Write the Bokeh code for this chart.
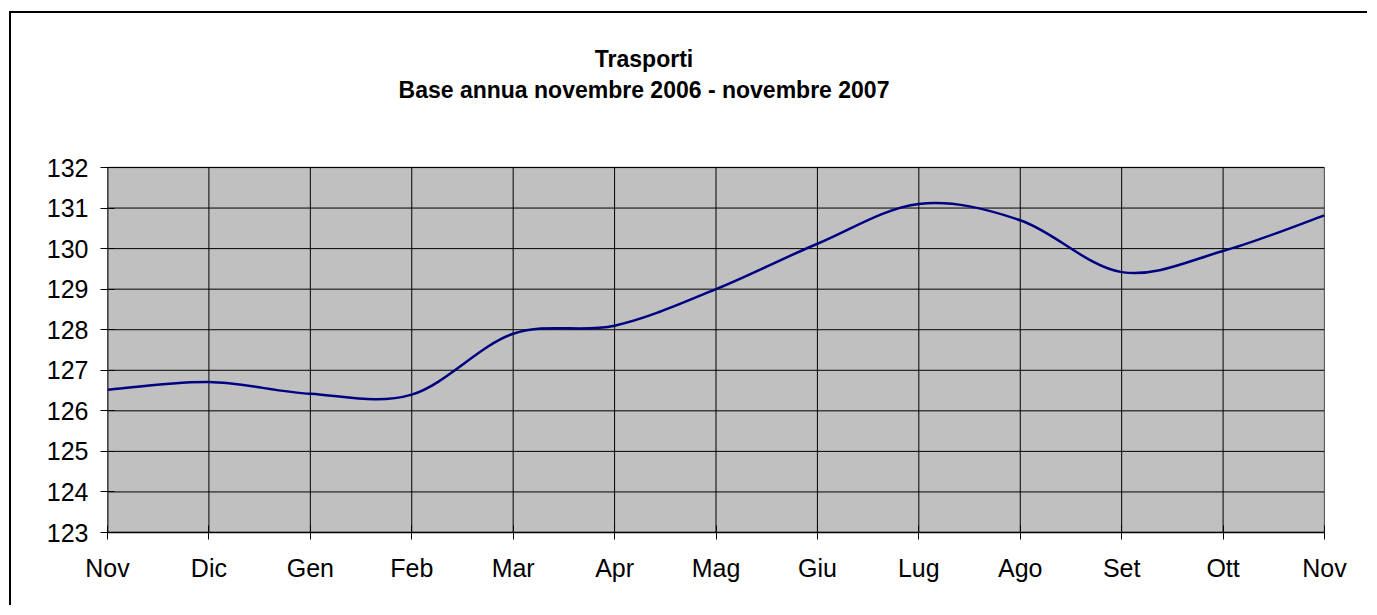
from bokeh.plotting import figure
from bokeh.models import Range1d, FixedTicker, Label, ColumnDataSource
from bokeh.embed import file_html
from bokeh.resources import INLINE

months = ["Nov", "Dic", "Gen", "Feb", "Mar", "Apr", "Mag", "Giu", "Lug", "Ago", "Set", "Ott", "Nov"]
values = [126.52, 126.71, 126.42, 126.40, 127.90, 128.10, 129.00, 130.12, 131.10, 130.70, 129.42, 129.94, 130.82]
y_ticks = [123, 124, 125, 126, 127, 128, 129, 130, 131, 132]
title_lines = ["Trasporti", "Base annua novembre 2006 - novembre 2007"]

xs = list(range(len(values)))
x_lo, x_hi = xs[0], xs[-1]
y_lo, y_hi = y_ticks[0], y_ticks[-1]

# layout (pixels)
PLOT_H = 365            # height of the grey plot area
TOP_SPACE = 134         # frame space above the grey plot area (holds the titles)
px_per_unit = PLOT_H / (y_hi - y_lo)
px_per_x = 1217 / (x_hi - x_lo)
y_top = y_hi + TOP_SPACE / px_per_unit
title_x = x_lo + 536.5 / px_per_x
title_y1 = y_hi + 109 / px_per_unit
title_y2 = y_hi + 78 / px_per_unit

# Excel-like smoothed line: cubic Bezier segments (Catmull-Rom, tension 1/6)
n = len(values)
seg = dict(x0=[], y0=[], x1=[], y1=[], cx0=[], cy0=[], cx1=[], cy1=[])
for i in range(n - 1):
    pm = i - 1 if i > 0 else 0
    pn = i + 2 if i + 2 < n else n - 1
    seg["x0"].append(xs[i]); seg["y0"].append(values[i])
    seg["x1"].append(xs[i + 1]); seg["y1"].append(values[i + 1])
    seg["cx0"].append(xs[i] + (xs[i + 1] - xs[pm]) / 6.0)
    seg["cy0"].append(values[i] + (values[i + 1] - values[pm]) / 6.0)
    seg["cx1"].append(xs[i + 1] - (xs[pn] - xs[i]) / 6.0)
    seg["cy1"].append(values[i + 1] - (values[pn] - values[i]) / 6.0)
src = ColumnDataSource(seg)

FONT = "Liberation Sans"

p = figure(width=1358, height=594, output_backend="svg", toolbar_location=None, title=None,
           x_range=Range1d(x_lo, x_hi), y_range=Range1d(y_lo, y_top),
           min_border_left=96, min_border_right=45, min_border_top=20, min_border_bottom=75)
p.styles = {"margin-left": "9px", "margin-top": "11px",
            "border-top": "2px solid #000", "border-left": "2px solid #000"}

p.background_fill_color = "white"
p.border_fill_color = "white"
p.outline_line_color = None
p.xgrid.visible = False
p.ygrid.visible = False

# grey plot area
p.quad(left=[x_lo], right=[x_hi], bottom=[y_lo], top=[y_hi],
       fill_color="#c0c0c0", line_color="#808080", line_width=1.5)
# gridlines
p.segment(x0=[x_lo] * len(y_ticks), x1=[x_hi] * len(y_ticks), y0=y_ticks, y1=y_ticks,
          line_color="black", line_width=1)
p.segment(x0=xs, x1=xs, y0=[y_lo] * len(xs), y1=[y_hi] * len(xs),
          line_color="black", line_width=1)
# left axis line (only over the plot area)
p.segment(x0=[x_lo], x1=[x_lo], y0=[y_lo], y1=[y_hi], line_color="#333333", line_width=2)

p.bezier(x0="x0", y0="y0", x1="x1", y1="y1", cx0="cx0", cy0="cy0", cx1="cx1", cy1="cy1",
         source=src, line_color="#000080", line_width=2.5)

p.xaxis.ticker = FixedTicker(ticks=xs)
p.xaxis.major_label_overrides = {i: m for i, m in enumerate(months)}
p.yaxis.ticker = FixedTicker(ticks=y_ticks)

for ax in (p.xaxis[0], p.yaxis[0]):
    ax.major_tick_in = 7
    ax.major_tick_out = 7
    ax.minor_tick_line_color = None
    ax.major_tick_line_color = "black"
    ax.axis_line_color = "black"
    ax.axis_line_width = 1.5
    ax.major_label_text_font = FONT
    ax.major_label_text_font_size = "25px"
    ax.major_label_text_color = "black"
p.xaxis.major_label_standoff = 14
p.yaxis.major_label_standoff = 12
p.yaxis.axis_line_color = None

p.add_layout(Label(x=title_x, y=title_y1, text=title_lines[0],
                   text_align="center", text_baseline="middle",
                   text_font=FONT, text_font_size="23px", text_font_style="bold", text_color="black"))
p.add_layout(Label(x=title_x, y=title_y2, text=title_lines[1],
                   text_align="center", text_baseline="middle",
                   text_font=FONT, text_font_size="23px", text_font_style="bold", text_color="black"))

open("out.html", "w").write(file_html(p, INLINE))
